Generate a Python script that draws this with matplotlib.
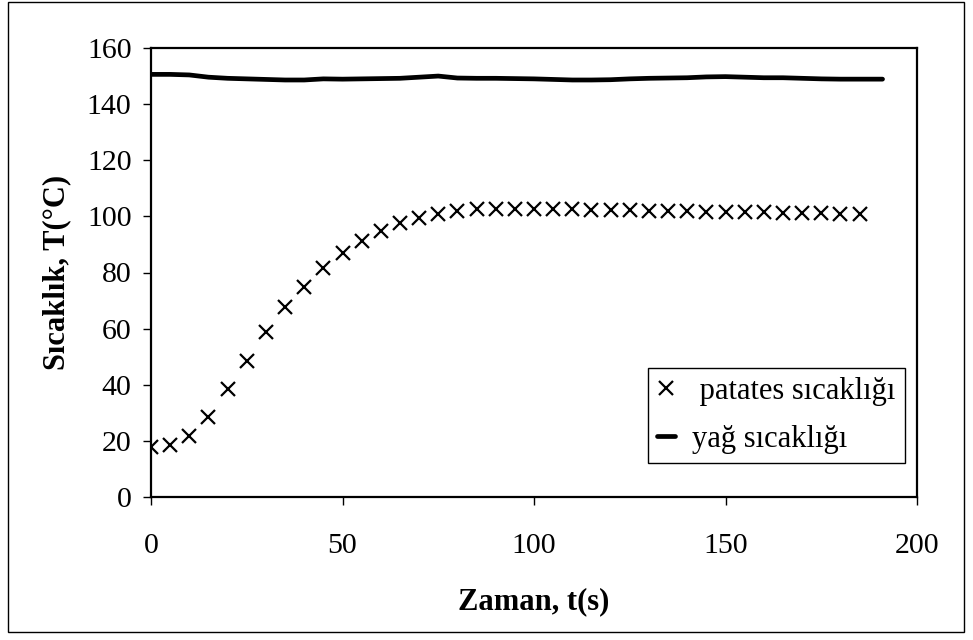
import matplotlib.pyplot as plt
from matplotlib.patches import Rectangle

plt.rcParams['font.family'] = ['Liberation Serif', 'DejaVu Serif']

# patates sıcaklığı, her 5 s'de bir ölçüm
t_patates = [0, 5, 10, 15, 20, 25, 30, 35, 40, 45, 50, 55, 60, 65, 70, 75, 80, 85, 90,
             95, 100, 105, 110, 115, 120, 125, 130, 135, 140, 145, 150, 155, 160, 165,
             170, 175, 180, 185]
T_patates = [17.9, 18.5, 21.7, 28.4, 38.4, 48.5, 58.7, 67.6, 75.0, 81.5, 87.1, 91.2, 94.7,
             97.5, 99.3, 101.0, 102.0, 102.5, 102.7, 102.8, 102.8, 102.7, 102.6, 102.4,
             102.3, 102.1, 102.0, 101.9, 101.8, 101.7, 101.6, 101.5, 101.4, 101.3, 101.2,
             101.1, 101.0, 100.9]

# yağ sıcaklığı
t_yag = [0, 5, 10, 15, 20, 25, 30, 35, 40, 45, 50, 55, 60, 65, 70, 75, 80, 85, 90, 95,
         100, 105, 110, 115, 120, 125, 130, 135, 140, 145, 150, 155, 160, 165, 170, 175,
         180, 185, 191]
T_yag = [150.6, 150.6, 150.4, 149.6, 149.2, 149.0, 148.8, 148.6, 148.6, 149.0, 148.9,
         149.0, 149.1, 149.2, 149.6, 150.0, 149.3, 149.2, 149.2, 149.1, 149.0, 148.8,
         148.6, 148.6, 148.7, 149.0, 149.2, 149.3, 149.4, 149.7, 149.8, 149.6, 149.4,
         149.4, 149.2, 149.0, 148.9, 148.9, 148.9]

fig = plt.figure(figsize=(9.73, 6.40), dpi=100)
# dış çerçeve
fig.patches.append(Rectangle((8 / 973, 1 - 632 / 640), 956 / 973, 630 / 640,
                             transform=fig.transFigure, fill=False,
                             edgecolor='black', linewidth=1.0))

ax = fig.add_axes([151 / 973, 1 - 497 / 640, 766 / 973, 449 / 640])

ax.plot(t_patates, T_patates, linestyle='none', marker='x', markersize=10,
        markeredgewidth=1.6, color='black', label=' patates sıcaklığı')
ax.plot(t_yag, T_yag, color='black', linewidth=3.4, solid_capstyle='round',
        label='yağ sıcaklığı')

ax.set_xlim(0, 200)
ax.set_ylim(0, 160)
ax.set_xticks([0, 50, 100, 150, 200])
ax.set_yticks(range(0, 161, 20))
ax.tick_params(direction='out', length=6, width=1, labelsize=21.5)
ax.tick_params(axis='x', pad=20)
ax.tick_params(axis='y', pad=8)

for s in ax.spines.values():
    s.set_linewidth(1.6)
    s.set_color('black')

ax.set_xlabel('Zaman, t(s)', fontsize=22, fontweight='bold', labelpad=20)
ax.set_ylabel('Sıcaklık, T(°C)', fontsize=22, fontweight='bold', labelpad=11)

leg = ax.legend(loc='lower right', bbox_to_anchor=(0.984, 0.0757), fontsize=22,
                frameon=True, fancybox=False, framealpha=1, edgecolor='black',
                handlelength=0.6, handletextpad=0.55, borderpad=0.3, labelspacing=0.62,
                borderaxespad=0)
leg.get_frame().set_linewidth(1.0)

fig.savefig('out.png', dpi=100)
